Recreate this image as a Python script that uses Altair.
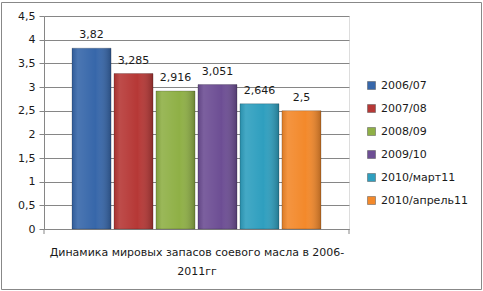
import altair as alt
import pandas as pd

series = ["2006/07", "2007/08", "2008/09", "2009/10", "2010/март11", "2010/апрель11"]
values = [3.82, 3.285, 2.916, 3.051, 2.646, 2.5]
colors = ["#3767AA", "#B63836", "#8FB046", "#6D4E94", "#2F9FBF", "#F3892B"]
y_ticks = [0, 0.5, 1, 1.5, 2, 2.5, 3, 3.5, 4, 4.5]
x_title = ["Динамика мировых запасов соевого масла в 2006-", "2011гг"]

df = pd.DataFrame({"series": series, "value": values})

W, H = 305, 213
FONT = "DejaVu Sans"

x_enc = alt.X("series:N", sort=series,
              scale=alt.Scale(paddingInner=0.07, paddingOuter=0.667),
              axis=alt.Axis(labels=False, ticks=False, domainColor="#868686",
                            title=x_title, titleFont=FONT, titleFontSize=11,
                            titleFontWeight="normal", titleColor="#1a1a1a",
                            titlePadding=17, titleLineHeight=19))
y_enc = alt.Y("value:Q", scale=alt.Scale(domain=[0, 4.5], nice=False, zero=True),
              axis=alt.Axis(values=y_ticks, format="~g", title=None, labelOverlap=False,
                            labelFont=FONT, labelFontSize=11, labelColor="#1a1a1a",
                            gridColor="#868686", domainColor="#868686",
                            tickColor="#868686", tickSize=5, labelPadding=4))

bars = alt.Chart(df).mark_bar(stroke="#00000033", strokeWidth=1).encode(
    x=x_enc, y=y_enc,
    color=alt.Color("series:N", sort=series,
                    scale=alt.Scale(domain=series, range=colors),
                    legend=alt.Legend(title=None, orient="none", legendX=322, legendY=64,
                                      symbolType="square", symbolSize=64,
                                      symbolStrokeWidth=0.5, symbolStrokeColor="#555",
                                      labelFont=FONT, labelFontSize=11, labelColor="#1a1a1a",
                                      rowPadding=11, labelOffset=4)),
)

shade = alt.Chart(df).mark_bar(
    color=alt.Gradient(gradient="linear", x1=0, y1=0, x2=1, y2=0,
                       stops=[alt.GradientStop(color="rgba(0,0,0,0.10)", offset=0),
                              alt.GradientStop(color="rgba(255,255,255,0.10)", offset=0.15),
                              alt.GradientStop(color="rgba(255,255,255,0.0)", offset=0.6),
                              alt.GradientStop(color="rgba(0,0,0,0.25)", offset=1)])
).encode(x=x_enc, y=y_enc)

labels = alt.Chart(df).mark_text(dy=-13, font=FONT, fontSize=11, color="#1a1a1a").encode(
    x=x_enc, y=y_enc, text=alt.Text("value:Q", format="~g"))

end_ticks = alt.Chart(pd.DataFrame({"p": [0, W]})).mark_rule(color="#868686").encode(
    x=alt.X("p:Q", scale=None), y=alt.value(H), y2=alt.value(H + 5))

frame_data = pd.DataFrame({"k": [0]})
frame = alt.Chart(frame_data).mark_rect(fill=None, stroke="#888888", strokeWidth=1, clip=False).encode(
    x=alt.value(-42.5), x2=alt.value(W + 132.5), y=alt.value(-13.5), y2=alt.value(H + 60.5))

chart = alt.layer(bars, shade, labels, end_ticks, frame).properties(
    width=W, height=H,
    autosize=alt.AutoSizeParams(type="none"),
    padding={"left": 44, "top": 16, "right": 134, "bottom": 62},
).configure_view(stroke=None).configure(
    locale={"number": {"decimal": ",", "thousands": " ", "grouping": [3], "currency": ["", ""]}},
    background="white",
)

chart.save("out.html", embed_options={"renderer": "svg", "actions": False})
